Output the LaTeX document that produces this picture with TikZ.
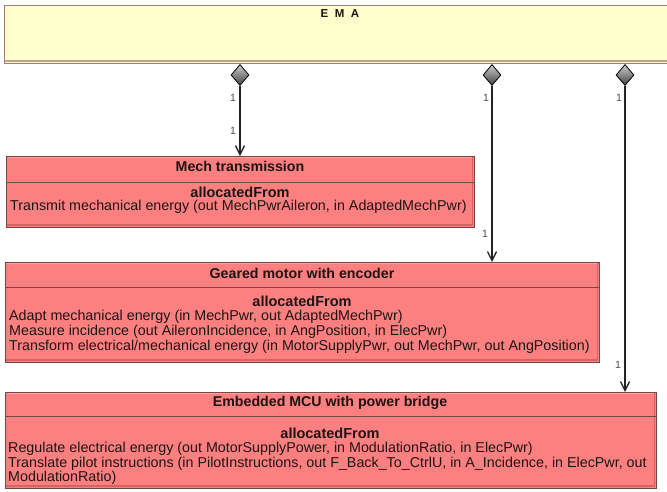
\documentclass[tikz,border=0pt]{standalone}
\usepackage{fontspec}
\setmainfont{Liberation Sans}
\usetikzlibrary{shapes.geometric,arrows.meta}

\definecolor{emafill}{RGB}{255,254,204}
\definecolor{emaedge}{RGB}{170,120,120}
\definecolor{emashade}{RGB}{185,170,135}
\definecolor{partfill}{RGB}{252,128,128}
\definecolor{partedge}{RGB}{120,70,70}
\definecolor{partshade}{RGB}{215,100,100}
\definecolor{partlight}{RGB}{255,160,160}
\definecolor{inktext}{RGB}{30,20,20}
\definecolor{linkink}{RGB}{35,35,35}

\tikzset{
  blockbox/.style={draw=partedge, fill=partfill, line width=0.8pt, inner sep=0pt, anchor=north west},
  topbox/.style={draw=emaedge, fill=emafill, line width=0.8pt, inner sep=0pt, anchor=north west},
  titletext/.style={font=\fontsize{14.2}{15}\selectfont\bfseries, text=inktext, inner sep=0pt},
  alloctext/.style={font=\fontsize{14.5}{15}\selectfont\bfseries, text=inktext, inner sep=0pt},
  bodytext/.style={font=\fontsize{14.3}{15}\selectfont, text=inktext, inner sep=0pt, anchor=west},
  owner/.style={diamond, draw=black, line width=0.8pt, minimum width=18pt, minimum height=21pt,
    inner sep=0pt, top color=gray!40, bottom color=black!75},
  link/.style={draw=linkink, line width=1.4pt, -{Straight Barb[length=9pt,width=9pt,line width=1.3pt]}},
  mult/.style={font=\fontsize{10.5}{11}\selectfont, text=black!70, inner sep=0pt},
  divider/.style={draw=partedge, line width=0.8pt},
}

\begin{document}
\begin{tikzpicture}[x=1pt,y=-1pt]
\useasboundingbox[fill=white] (0,0) rectangle (667,491);

% owning block
\node[topbox, minimum width=672pt, minimum height=58pt] (ema) at (4,5) {};
\draw[emashade, line width=2.2pt] (5,61) -- (667,61);
\node[font=\fontsize{11.5}{12}\selectfont\bfseries, text=inktext, inner sep=0pt] (emaname) at (340,14)
  {E\hspace{6.5pt}M\hspace{6.5pt}A};

% part blocks
\node[blockbox, minimum width=468pt, minimum height=71pt] (mech) at (6,156) {};
\node[blockbox, minimum width=594pt, minimum height=100pt] (gear) at (5,262) {};
\node[blockbox, minimum width=651pt, minimum height=96pt] (mcu) at (5,392) {};

% bevel shading on the part blocks
\foreach \l/\t/\r/\b in {6/156/474/227, 5/262/599/362, 5/392/656/488}{
  \draw[partlight, line width=1.5pt] (\l+1.5,\t+1.5) -- (\r-1.5,\t+1.5);
  \draw[partshade, line width=2.5pt] (\l+1,\b-1.8) -- (\r-1,\b-1.8);
  \draw[partshade, line width=1.8pt] (\r-1.5,\t+1) -- (\r-1.5,\b-1);
  \draw[partedge, line width=0.8pt] (\l,\t) rectangle (\r,\b);
}

% compartment dividers
\draw[divider] (6,182) -- (474,182);
\draw[divider] (5,287) -- (599,287);
\draw[divider] (5,416) -- (656,416);

% texts of Mech transmission
\node[titletext] (mechname) at (240,166.5) {Mech transmission};
\node[alloctext] (mechalloc) at (240,192) {allocatedFrom};
\node[bodytext] (mechf1) at (10,207) {Transmit mechanical energy (out MechPwrAileron, in AdaptedMechPwr)};

% texts of Geared motor with encoder
\node[titletext] (gearname) at (302,273) {Geared motor with encoder};
\node[alloctext] (gearalloc) at (302,301) {allocatedFrom};
\node[bodytext] (gearf1) at (9,317) {Adapt mechanical energy (in MechPwr, out AdaptedMechPwr)};
\node[bodytext] (gearf2) at (9,332) {Measure incidence (out AileronIncidence, in AngPosition, in ElecPwr)};
\node[bodytext] (gearf3) at (9,347) {Transform electrical/mechanical energy (in MotorSupplyPwr, out MechPwr, out AngPosition)};

% texts of Embedded MCU with power bridge
\node[titletext] (mcuname) at (330,403) {Embedded MCU with power bridge};
\node[alloctext] (mcualloc) at (330,433) {allocatedFrom};
\node[bodytext] (mcuf1) at (8,449) {Regulate electrical energy (out MotorSupplyPower, in ModulationRatio, in ElecPwr)};
\node[bodytext] (mcuf2) at (8,463.5) {Translate pilot instructions (in PilotInstructions, out F\_Back\_To\_CtrlU, in A\_Incidence, in ElecPwr, out};
\node[bodytext] (mcuf3) at (8,478) {ModulationRatio)};

% composition diamonds
\node[owner] (d1) at (240,75) {};
\node[owner] (d2) at (492,75) {};
\node[owner] (d3) at (625,75) {};

% composition links
\draw[link] (d1.south) -- (d1.south |- mech.north);
\draw[link] (d2.south) -- (d2.south |- gear.north);
\draw[link] (d3.south) -- (d3.south |- mcu.north);

% multiplicities
\node[mult] (m1a) at (233,98) {1};
\node[mult] (m1b) at (233,131) {1};
\node[mult] (m2a) at (486,98) {1};
\node[mult] (m2b) at (485,234) {1};
\node[mult] (m3a) at (619,98) {1};
\node[mult] (m3b) at (618,365) {1};
\end{tikzpicture}
\end{document}
